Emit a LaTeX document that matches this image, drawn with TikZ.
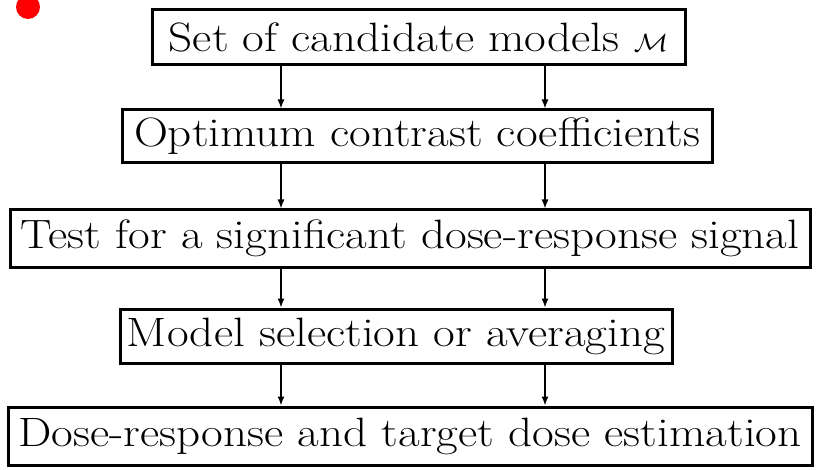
\documentclass[tikz,border=0pt]{standalone}
\usepackage{graphicx}
\usetikzlibrary{arrows.meta}
\newcommand\wider[1]{\scalebox{1.15}[1]{#1}}
\begin{document}
\begin{tikzpicture}[x=1pt,y=-1pt,
  box/.style={draw=black,line width=3pt,inner sep=0pt,font=\fontsize{41}{49}\selectfont},
  arr/.style={line width=1.4pt,-{Latex[length=9pt,width=7pt]}}]
\useasboundingbox (0,0) rectangle (818,470);
\fill[red] (28,7) circle (12);
\node[box,minimum width=533pt,minimum height=55pt] (b1) at (418.5,37.5) {\wider{Set of candidate models $\mathcal{M}$}};
\node[box,minimum width=590pt,minimum height=53pt] (b2) at (417,136.5) {\wider{Optimum contrast coefficients}};
\node[box,minimum width=800pt,minimum height=57pt] (b3) at (410,238.5) {\wider{Test for a significant dose-response signal}};
\node[box,minimum width=552pt,minimum height=54pt] (b4) at (396,336) {\wider{Model selection or averaging}};
\node[box,minimum width=804pt,minimum height=58pt] (b5) at (410,436) {\wider{Dose-response and target dose estimation}};
\foreach \a/\b in {b1/b2,b2/b3,b3/b4,b4/b5}{
  \draw[arr] (281,0 |- \a.south) -- (281,0 |- \b.north);
  \draw[arr] (545,0 |- \a.south) -- (545,0 |- \b.north);
}
\end{tikzpicture}
\end{document}
